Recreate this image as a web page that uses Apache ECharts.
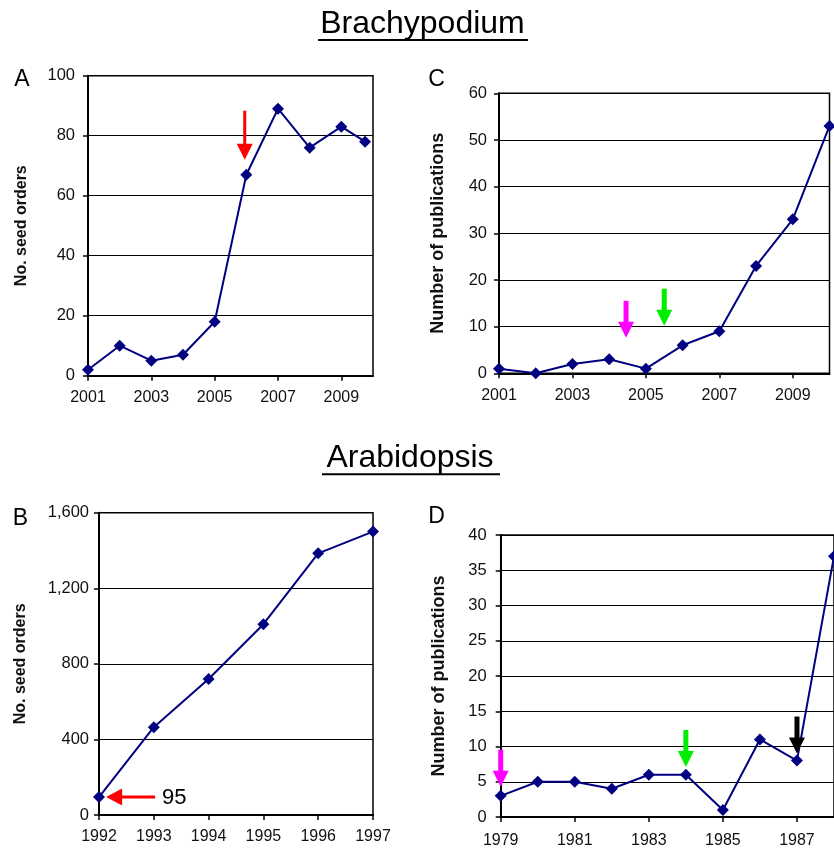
<!DOCTYPE html>
<html><head><meta charset="utf-8">
<script src="https://cdn.jsdelivr.net/npm/echarts@6/dist/echarts.min.js"></script>
<style>html,body{margin:0;padding:0;background:#fff}#c{width:834px;height:852px}</style>
</head><body><div id="c"></div>
<script>
// ---- data ----
const brachyOrderYears = [2001, 2002, 2003, 2004, 2005, 2006, 2007, 2008, 2009, 2009.75];
const brachyOrders     = [2, 10, 5, 7, 18, 67, 89, 76, 83, 78];
const brachyPubYears   = [2001, 2002, 2003, 2004, 2005, 2006, 2007, 2008, 2009, 2010];
const brachyPubs       = [1, 0, 2, 3, 1, 6, 9, 23, 33, 53];
const arabOrderYears   = [1992, 1993, 1994, 1995, 1996, 1997];
const arabOrders       = [95, 465, 720, 1010, 1385, 1500];
const arabPubYears     = [1979, 1980, 1981, 1982, 1983, 1984, 1985, 1986, 1987, 1988];
const arabPubs         = [3, 5, 5, 4, 6, 6, 1, 11, 8, 37];
// arrow annotations: [grid, x, y(tip), colour]
const downArrows = [
  [0, 2005.95, 72, '#ff0000'],
  [1, 2004.46, 7.6, '#ff00ff'],
  [1, 2005.5, 10.2, '#00ee00'],
  [3, 1979.0, 4.3, '#ff00ff'],
  [3, 1984.0, 7.1, '#00ee00'],
  [3, 1987.0, 9.0, '#000000']
];
const leftArrow = [2, 1992.13, 95, '#ff0000', '95'];
const titles = ['Brachypodium', 'Arabidopsis'];
const panelLetters = ['A', 'C', 'B', 'D'];

const FONT = 'Arial, "Liberation Sans", sans-serif';
const chart = echarts.init(document.getElementById('c'));

const grids = [
  {left: 88, top: 75.7, width: 285, height: 300},
  {left: 499, top: 93.3, width: 330.5, height: 280},
  {left: 99, top: 512.7, width: 274, height: 302.3},
  {left: 500.7, top: 535, width: 334.3, height: 282}
].map(g => Object.assign({show: true, borderColor: '#000', borderWidth: 1.5, backgroundColor: '#fff'}, g));

function xAx(gi, min, max, interval, margin) {
  return {
    type: 'value', gridIndex: gi, min: min, max: max, interval: interval,
    axisLine: {show: true, onZero: false, lineStyle: {color: '#000', width: 2}},
    axisTick: {show: true, length: 5, lineStyle: {color: '#000', width: 1.5}},
    splitLine: {show: false},
    axisLabel: {color: '#111', fontSize: 16, fontFamily: FONT, margin: margin, showMaxLabel: gi === 2,
      formatter: v => String(Math.round(v))}
  };
}
function yAx(gi, max, interval, name, nameSize, nameGap, margin, fmt) {
  return {
    type: 'value', gridIndex: gi, min: 0, max: max, interval: interval,
    name: name, nameLocation: 'middle', nameGap: nameGap, nameRotate: 90,
    nameTextStyle: {fontSize: nameSize, fontWeight: 'bold', fontFamily: FONT, color: '#111'},
    axisLine: {show: true, lineStyle: {color: '#000', width: 2}},
    axisTick: {show: true, length: 5, lineStyle: {color: '#000', width: 1.5}},
    splitLine: {show: true, lineStyle: {color: '#000', width: 1.2}},
    axisLabel: {color: '#111', fontSize: 16.5, fontFamily: FONT, margin: margin, formatter: fmt}
  };
}
const comma = v => v.toLocaleString('en-US');

function series(gi, xs, ys) {
  return {
    type: 'line', xAxisIndex: gi, yAxisIndex: gi,
    data: xs.map((x, i) => [x, ys[i]]),
    symbol: 'diamond', symbolSize: 12, showSymbol: true,
    lineStyle: {color: '#000080', width: 2},
    itemStyle: {color: '#000080'},
    animation: false, silent: true, z: 3
  };
}

chart.setOption({
  animation: false,
  grid: grids,
  xAxis: [
    xAx(0, 2001, 2010, 2, 14),
    xAx(1, 2001, 2010, 2, 14),
    xAx(2, 1992, 1997, 1, 14),
    xAx(3, 1979, 1988, 2, 16)
  ],
  yAxis: [
    yAx(0, 100, 20, 'No. seed orders', 16, 58, 13),
    yAx(1, 60, 10, 'Number of publications', 18, 52, 12),
    yAx(2, 1600, 400, 'No. seed orders', 16, 70, 10, comma),
    yAx(3, 40, 5, 'Number of publications', 18, 53, 14)
  ],
  series: [
    series(0, brachyOrderYears, brachyOrders),
    series(1, brachyPubYears, brachyPubs),
    series(2, arabOrderYears, arabOrders),
    series(3, arabPubYears, arabPubs)
  ]
});

const gfx = [];
// titles with underline
const titlePos = [[422.5, 24, 318, 528, 40], [410, 458, 322, 500, 474.3]];
titles.forEach((t, i) => {
  const p = titlePos[i];
  gfx.push({type: 'text', x: p[0], y: p[1], z: 10,
    style: {text: t, font: '32px ' + FONT, fill: '#000', textAlign: 'center', textVerticalAlign: 'middle'}});
  gfx.push({type: 'line', z: 10, shape: {x1: p[2], y1: p[4], x2: p[3], y2: p[4]}, style: {stroke: '#000', lineWidth: 2}});
});
const letterPos = [[22, 80], [436.5, 80], [20.5, 519], [436.5, 517]];
panelLetters.forEach((l, i) => {
  gfx.push({type: 'text', x: letterPos[i][0], y: letterPos[i][1], z: 10,
    style: {text: l, font: '23px ' + FONT, fill: '#000', textAlign: 'center', textVerticalAlign: 'middle'}});
});
// down arrows
downArrows.forEach(a => {
  const p = chart.convertToPixel({gridIndex: a[0]}, [a[1], a[2]]);
  const len = a[0] === 0 ? 49 : 37, sw = a[0] === 0 ? 3 : 5, hw = 16, hh = 16;
  gfx.push({type: 'rect', z: 20, shape: {x: p[0] - sw / 2, y: p[1] - len, width: sw, height: len - hh + 1}, style: {fill: a[3]}});
  gfx.push({type: 'polygon', z: 20, shape: {points: [[p[0] - hw / 2, p[1] - hh], [p[0] + hw / 2, p[1] - hh], [p[0], p[1]]]}, style: {fill: a[3]}});
});
// left arrow
{
  const a = leftArrow;
  const p = chart.convertToPixel({gridIndex: a[0]}, [a[1], a[2]]);
  const len = 49, sw = 3, hl = 16, hh = 17;
  gfx.push({type: 'rect', z: 20, shape: {x: p[0] + hl - 1, y: p[1] - sw / 2, width: len - hl + 1, height: sw}, style: {fill: a[3]}});
  gfx.push({type: 'polygon', z: 20, shape: {points: [[p[0], p[1]], [p[0] + hl, p[1] - hh / 2], [p[0] + hl, p[1] + hh / 2]]}, style: {fill: a[3]}});
  gfx.push({type: 'text', z: 20, x: p[0] + len + 7, y: p[1] + 1,
    style: {text: a[4], font: '22px ' + FONT, fill: '#000', textAlign: 'left', textVerticalAlign: 'middle'}});
}
chart.setOption({graphic: gfx});
</script>
</body></html>
